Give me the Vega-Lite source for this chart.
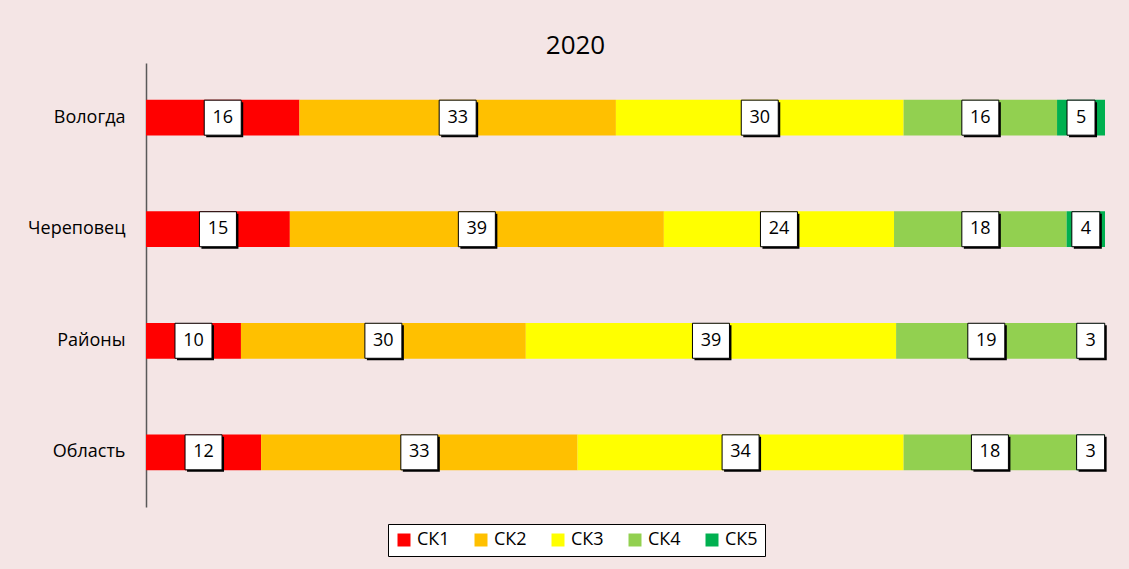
{
  "$schema": "https://vega.github.io/schema/vega-lite/v6.json",
  "autosize": "none",
  "width": 959,
  "height": 444,
  "padding": {"left": 146, "top": 63, "right": 24, "bottom": 62},
  "background": "#F4E5E5",
  "title": {"text": "2020", "fontSize": 26, "font": "Open Sans", "fontWeight": "normal", "color": "#000000", "anchor": "middle", "dx": -50, "offset": 4},
  "config": {"view": {"stroke": null}, "font": "Open Sans"},
  "data": {"values": [
    {"city": "Вологда", "k": "СК1", "v": 16},
    {"city": "Вологда", "k": "СК2", "v": 33},
    {"city": "Вологда", "k": "СК3", "v": 30},
    {"city": "Вологда", "k": "СК4", "v": 16},
    {"city": "Вологда", "k": "СК5", "v": 5},
    {"city": "Череповец", "k": "СК1", "v": 15},
    {"city": "Череповец", "k": "СК2", "v": 39},
    {"city": "Череповец", "k": "СК3", "v": 24},
    {"city": "Череповец", "k": "СК4", "v": 18},
    {"city": "Череповец", "k": "СК5", "v": 4},
    {"city": "Районы", "k": "СК1", "v": 10},
    {"city": "Районы", "k": "СК2", "v": 30},
    {"city": "Районы", "k": "СК3", "v": 39},
    {"city": "Районы", "k": "СК4", "v": 19},
    {"city": "Районы", "k": "СК5", "v": 3},
    {"city": "Область", "k": "СК1", "v": 12},
    {"city": "Область", "k": "СК2", "v": 33},
    {"city": "Область", "k": "СК3", "v": 34},
    {"city": "Область", "k": "СК4", "v": 18},
    {"city": "Область", "k": "СК5", "v": 3}
  ]},
  "transform": [
    {"stack": "v", "groupby": ["city"], "sort": [{"field": "k", "order": "ascending"}], "as": ["x0", "x1"], "offset": "normalize"},
    {"calculate": "(datum.x0 + datum.x1) / 2", "as": "mid"}
  ],
  "encoding": {
    "y": {"field": "city", "type": "nominal", "sort": ["Вологда", "Череповец", "Районы", "Область"],
      "scale": {"paddingInner": 0.68, "paddingOuter": 0.33},
      "axis": {"title": null, "ticks": false, "domainColor": "#595959", "domainWidth": 1.5, "labelFontSize": 18, "labelColor": "#000000", "labelPadding": 21, "labelFont": "Open Sans"}}
  },
  "layer": [
    {
      "mark": {"type": "bar"},
      "encoding": {
        "x": {"field": "x0", "type": "quantitative", "scale": {"domain": [0, 1], "nice": false}, "axis": null},
        "x2": {"field": "x1"},
        "color": {"field": "k", "type": "nominal",
          "scale": {"domain": ["СК1", "СК2", "СК3", "СК4", "СК5"], "range": ["#FF0000", "#FFC000", "#FFFF00", "#92D050", "#00B050"]},
          "legend": {"title": null, "orient": "none", "legendX": 242, "legendY": 461, "direction": "horizontal", "columns": 5, "gridAlign": "all",
            "symbolType": "square", "symbolSize": 169, "symbolStrokeWidth": 0, "labelFontSize": 18, "labelFont": "Open Sans", "labelColor": "#000000", "labelOffset": 4,
            "columnPadding": 22, "padding": 7, "fillColor": "#FFFFFF", "strokeColor": "#000000"}}
      }
    },
    {
      "mark": {"type": "point", "filled": true, "fill": "#000000", "opacity": 1, "strokeWidth": 0, "xOffset": 2, "yOffset": 2},
      "encoding": {
        "x": {"field": "mid", "type": "quantitative"},
        "shape": {"condition": {"test": "datum.v < 10", "value": "M-0.757,-0.946H0.757V0.946H-0.757Z"}, "value": "M-1,-0.946H1V0.946H-1Z"},
        "size": {"value": 1369}
      }
    },
    {
      "mark": {"type": "point", "filled": true, "fill": "#FFFFFF", "opacity": 1, "stroke": "#000000", "strokeWidth": 1, "strokeOpacity": 1},
      "encoding": {
        "x": {"field": "mid", "type": "quantitative"},
        "shape": {"condition": {"test": "datum.v < 10", "value": "M-0.757,-0.946H0.757V0.946H-0.757Z"}, "value": "M-1,-0.946H1V0.946H-1Z"},
        "size": {"value": 1369}
      }
    },
    {
      "mark": {"type": "text", "fontSize": 18, "font": "Open Sans", "color": "#000000", "baseline": "middle", "align": "center"},
      "encoding": {
        "x": {"field": "mid", "type": "quantitative"},
        "text": {"field": "v", "type": "quantitative"}
      }
    }
  ]
}
